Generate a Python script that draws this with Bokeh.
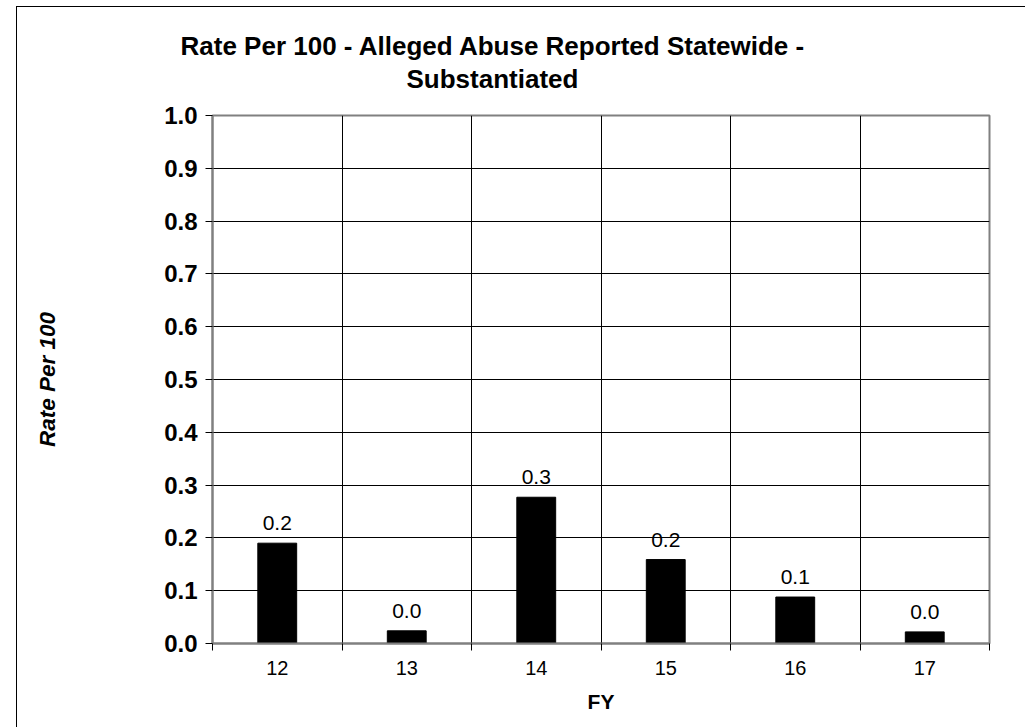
from bokeh.plotting import figure
from bokeh.models import ColumnDataSource, FixedTicker, Title
from bokeh.core.properties import value
from bokeh.embed import file_html
from bokeh.resources import INLINE

# Fiscal years and substantiated abuse rate per 100
fiscal_years = ["12", "13", "14", "15", "16", "17"]
rates = [0.19, 0.024, 0.277, 0.159, 0.088, 0.022]
y_ticks = [0.0, 0.1, 0.2, 0.3, 0.4, 0.5, 0.6, 0.7, 0.8, 0.9, 1.0]
title_lines = ["Rate Per 100 - Alleged Abuse Reported Statewide -", "Substantiated"]

FONT = "Liberation Sans"

centers = [i + 0.5 for i in range(len(fiscal_years))]
source = ColumnDataSource(dict(
    x=centers,
    top=rates,
    label=[f"{r:.1f}" for r in rates],
))

p = figure(
    width=1009, height=721,
    x_range=(0, len(fiscal_years)), y_range=(0, 1.0),
    output_backend="svg", toolbar_location=None,
    min_border_left=195, min_border_right=37,
    min_border_top=108, min_border_bottom=85,
    styles={"margin-left": "16px", "margin-top": "6px",
            "border-left": "1px solid #000", "border-top": "1px solid #000"},
)
p.title = None

p.vbar(x="x", top="top", bottom=0, width=0.3, source=source,
       fill_color="black", line_color="black")

p.text(x="x", y="top", text="label", source=source,
       text_align="center", text_baseline="bottom", y_offset=-13,
       text_font=value(FONT), text_font_size="21px", text_color="black")

# two-line title; the line added first sits nearest the plot,
# each line is shifted from the frame's left edge so both share one centre
for line, standoff, shift in ((title_lines[1], 43, 194), (title_lines[0], -41, -32)):
    p.add_layout(Title(text=line, align="left", offset=shift, standoff=standoff,
                       text_font=FONT, text_font_size="26px", text_font_style="bold",
                       text_color="black"), "above")

# x axis: labels at bar centers, tick marks at the category boundaries
xa = p.xaxis[0]
xa.ticker = FixedTicker(ticks=centers, minor_ticks=list(range(len(fiscal_years) + 1)))
xa.major_label_overrides = {c: fy for c, fy in zip(centers, fiscal_years)}
xa.major_tick_out = 0
xa.major_tick_in = 0
xa.minor_tick_out = 7
xa.minor_tick_in = 0
xa.minor_tick_line_color = "black"
xa.major_label_text_font = FONT
xa.major_label_text_font_size = "20px"
xa.major_label_text_color = "black"
xa.major_label_standoff = 10
xa.axis_label = "FY"
xa.axis_label_text_font = FONT
xa.axis_label_text_font_size = "21px"
xa.axis_label_text_font_style = "bold"
xa.axis_label_text_color = "black"
xa.axis_label_standoff = 12
xa.axis_line_color = "#808080"
xa.axis_line_width = 2

ya = p.yaxis[0]
ya.ticker = FixedTicker(ticks=y_ticks, minor_ticks=[])
ya.major_label_overrides = {t: f"{t:.1f}" for t in y_ticks}
ya.major_tick_out = 7
ya.major_tick_in = 0
ya.major_tick_line_color = "black"
ya.major_label_text_font = FONT
ya.major_label_text_font_size = "24px"
ya.major_label_text_font_style = "bold"
ya.major_label_text_color = "black"
ya.major_label_standoff = 8
ya.axis_label = "Rate Per 100"
ya.axis_label_text_font = FONT
ya.axis_label_text_font_size = "22.5px"
ya.axis_label_text_font_style = "bold italic"
ya.axis_label_text_color = "black"
ya.axis_label_standoff = 101
ya.axis_line_color = "#808080"
ya.axis_line_width = 2

p.xgrid.grid_line_color = None
p.xgrid.minor_grid_line_color = "black"
p.xgrid.minor_grid_line_width = 1
p.ygrid.grid_line_color = "black"
p.ygrid.grid_line_width = 1

p.outline_line_color = "#808080"
p.outline_line_width = 2
p.background_fill_color = "white"
p.border_fill_color = "white"

open("out.html", "w").write(file_html(p, INLINE))
